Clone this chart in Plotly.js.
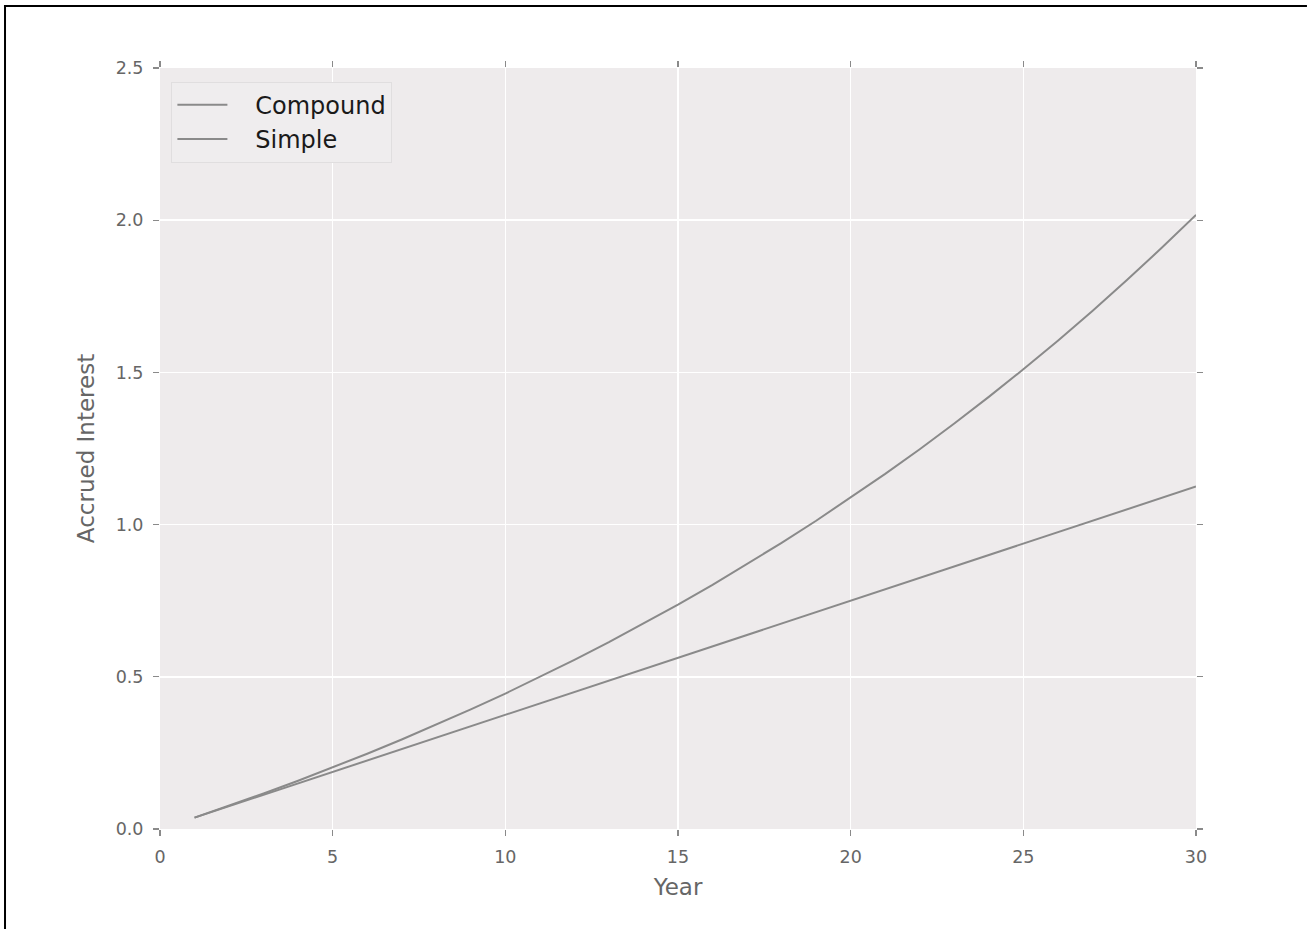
<!DOCTYPE html>
<html>
<head>
<meta charset="utf-8">
<script src="https://cdn.plot.ly/plotly-3.0.1.min.js"></script>
<style>
  html, body { margin: 0; padding: 0; background: #fff; overflow: hidden; }
  #chart { width: 1315px; height: 929px; }
</style>
</head>
<body>
<div id="chart"></div>
<script>
// Years of the investment
const years = [1, 2, 3, 4, 5, 6, 7, 8, 9, 10, 11, 12, 13, 14, 15,
               16, 17, 18, 19, 20, 21, 22, 23, 24, 25, 26, 27, 28, 29, 30];

// Accrued interest with compounding
const compound = [0.0375, 0.0764, 0.1168, 0.1587, 0.2021, 0.2472, 0.2939, 0.3425,
                  0.3928, 0.4450, 0.4992, 0.5555, 0.6138, 0.6743, 0.7371, 0.8022,
                  0.8698, 0.9399, 1.0127, 1.0882, 1.1665, 1.2477, 1.3320, 1.4195,
                  1.5102, 1.6043, 1.7020, 1.8033, 1.9084, 2.0175];

// Accrued interest without compounding
const simple = [0.0375, 0.0750, 0.1125, 0.1500, 0.1875, 0.2250, 0.2625, 0.3000,
                0.3375, 0.3750, 0.4125, 0.4500, 0.4875, 0.5250, 0.5625, 0.6000,
                0.6375, 0.6750, 0.7125, 0.7500, 0.7875, 0.8250, 0.8625, 0.9000,
                0.9375, 0.9750, 1.0125, 1.0500, 1.0875, 1.1250];

const xTicks = [0, 5, 10, 15, 20, 25, 30];
const yTicks = [0.0, 0.5, 1.0, 1.5, 2.0, 2.5];
const yTickText = ['0.0', '0.5', '1.0', '1.5', '2.0', '2.5'];

const lineColor = '#8a8a8a';
const font = 'DejaVu Sans, sans-serif';

const traces = [
  { x: years, y: compound, name: '\u00a0\u00a0\u00a0Compound', mode: 'lines',
    line: { color: lineColor, width: 2 } },
  { x: years, y: simple, name: '\u00a0\u00a0\u00a0Simple', mode: 'lines',
    line: { color: lineColor, width: 2 } }
];

const titleFont = { family: font, size: 23, color: '#666666' };

const axisCommon = {
  showgrid: true, gridcolor: '#ffffff', gridwidth: 1.5,
  zeroline: false, showline: false,
  ticks: 'outside', ticklen: 6, tickwidth: 1.2, tickcolor: '#8a8a8a',
  mirror: 'ticks',
  ticklabelstandoff: 6,
  tickfont: { family: font, size: 17.5, color: '#666666' }
};

// Page frame: a rule along the top and one down the left side
const frameShapes = [
  { type: 'line', xref: 'paper', yref: 'paper', x0: -0.1506, x1: 1.1071, y0: 1.0815, y1: 1.0815,
    line: { color: '#000000', width: 2 } },
  { type: 'line', xref: 'paper', yref: 'paper', x0: -0.1496, x1: -0.1496, y0: 1.0828, y1: -0.14,
    line: { color: '#000000', width: 2 } }
];

const layout = {
  width: 1315, height: 929,
  margin: { l: 160, r: 119, t: 68, b: 100 },
  paper_bgcolor: '#ffffff',
  plot_bgcolor: '#eeebec',
  showlegend: true,
  shapes: frameShapes,
  legend: {
    x: 0.011, y: 0.982, xanchor: 'left', yanchor: 'top',
    bgcolor: '#efedee', bordercolor: '#e0dedf', borderwidth: 1,
    font: { family: font, size: 24, color: '#1a1a1a' },
    itemwidth: 50,
    tracegroupgap: 0
  },
  xaxis: Object.assign({}, axisCommon, {
    range: [0, 30], tickvals: xTicks, ticktext: xTicks.map(String),
    title: { text: 'Year', standoff: 12, font: titleFont }
  }),
  yaxis: Object.assign({}, axisCommon, {
    range: [0, 2.5], tickvals: yTicks, ticktext: yTickText,
    title: { text: 'Accrued Interest', standoff: 14, font: titleFont }
  })
};

Plotly.newPlot('chart', traces, layout, { displayModeBar: false, staticPlot: true });
</script>
</body>
</html>
